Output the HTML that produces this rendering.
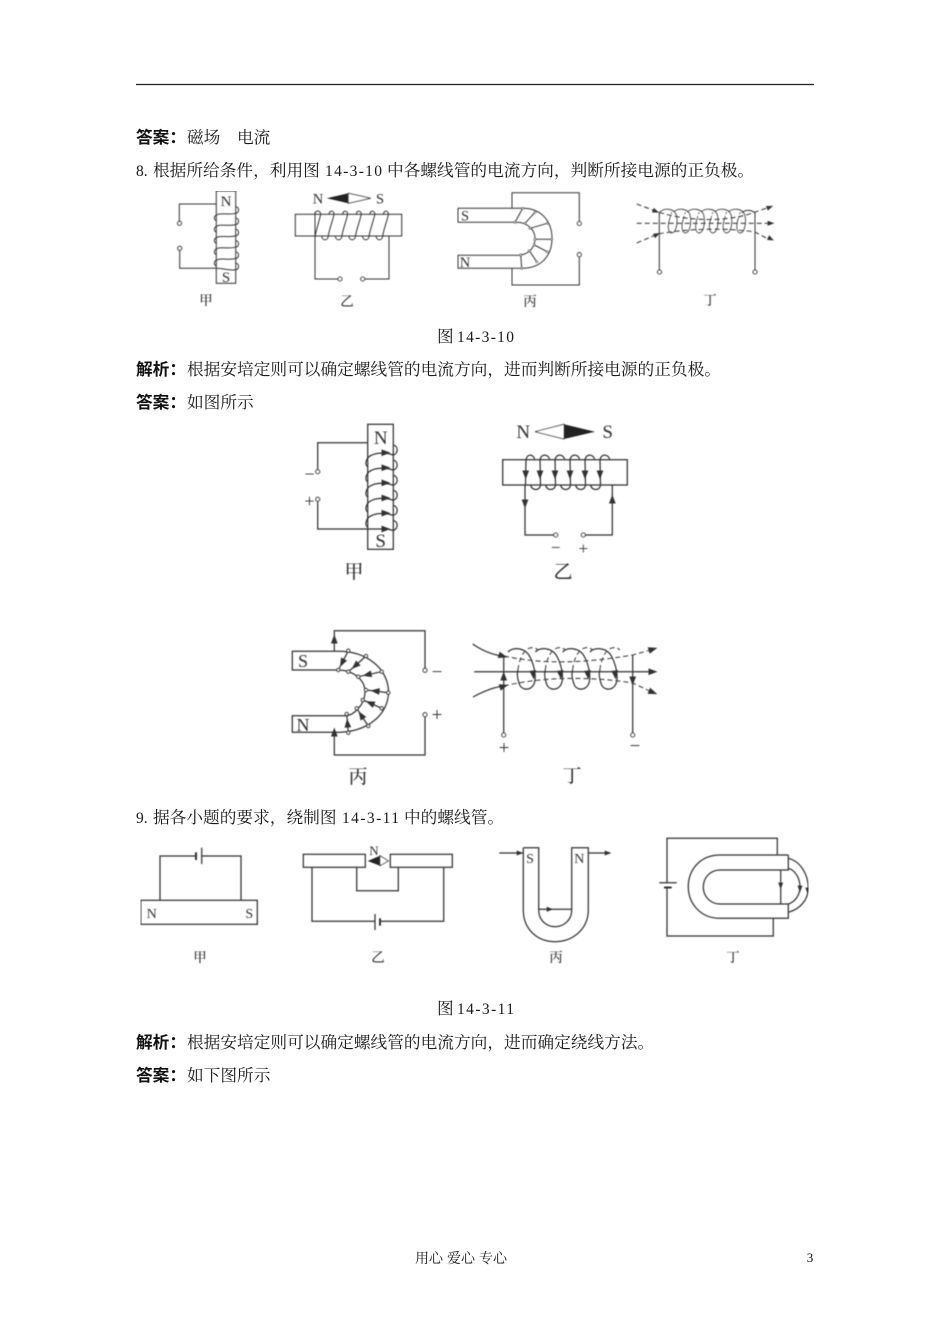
<!DOCTYPE html>
<html><head><meta charset="utf-8"><style>
html,body{margin:0;padding:0;background:#fff;width:950px;height:1344px;overflow:hidden}
svg{display:block}
.t{font-family:"Noto Serif CJK SC",serif;font-size:16.7px;fill:#1a1a1a}
.m{font-family:"Liberation Serif",serif;font-size:15.5px;fill:#1a1a1a}
.b{font-family:"Noto Sans CJK SC",sans-serif;font-size:16.7px;font-weight:bold;fill:#111}
.l{font-family:"Liberation Serif","Noto Serif CJK SC",serif;fill:#333;text-anchor:middle}
.c{font-family:"Noto Serif CJK SC",serif;fill:#333;text-anchor:middle;font-weight:500}
.w{fill:none;stroke:#333;stroke-width:1.25}
.d{fill:none;stroke:#444;stroke-width:1.1;stroke-dasharray:5 3}
.o{fill:#fff;stroke:#333;stroke-width:1.1}
</style></head><body>
<svg xmlns="http://www.w3.org/2000/svg" width="950" height="1344" viewBox="0 0 950 1344">
<defs>
<filter id="bl" x="0" y="0" width="100%" height="100%"><feGaussianBlur stdDeviation="0.4"/></filter>
<marker id="a" viewBox="0 0 8 6" markerUnits="userSpaceOnUse" markerWidth="9" markerHeight="7" refX="4" refY="3" orient="auto" overflow="visible"><path d="M0 0L8 3L0 6z" fill="#333"/></marker>
<marker id="s" viewBox="0 0 8 6" markerUnits="userSpaceOnUse" markerWidth="7" markerHeight="5" refX="4" refY="3" orient="auto" overflow="visible"><path d="M0 0L8 3L0 6z" fill="#333"/></marker>
<path id="k1" d="M235.7 206.7C239.5 207 239.5 212.5 235.7 213.3C230 215 222 213 218 214.3C213.5 215.5 213.5 219.5 216.3 220.7"/>
<path id="k2" d="M321.7 236C322 241 328 241 328.3 236C329 230 333 220 334 214.3C334 210 329.5 210 329 214.3"/>
<g id="k3"><path class="w" style="stroke-width:.9;stroke:#444" d="M660 212C664 208 673 208 676 214C678 220 677 232 672 233C668 233 667 226 670 218"/><path class="d" style="stroke-dasharray:2 2;stroke-width:.8" d="M670 218C671 213 672 211 674 211"/></g>
<path id="k4" d="M393.3 445C398.5 446 398.5 454 393 455C388 453 378 452 372 455C366 457 364 465 368 467"/>
<path id="k5" d="M549.7 460C549 454 541 453 540 460L540.5 485C540 491 531.5 491 530.7 485"/>
<g id="k6"><path class="w" d="M508 652C513 647 525 647 530 657C534 665 537 677 534 684C531 691 521 691 519 683C517 677 517 673 518 670"/><path class="d" d="M518 670C519 660 523 650 530 648C533 647 536 648 538 650"/><path d="M533 672l0.3 3" marker-end="url(#a)"/></g>
</defs>

<line x1="136" y1="84.5" x2="814" y2="84.5" stroke="#222" stroke-width="1.2"/>

<text class="b" x="136" y="143">答案：</text>
<text class="t" x="187" y="143">磁场</text>
<text class="t" x="237" y="143">电流</text>
<text class="m" x="136" y="176">8.</text>
<text class="t" x="153" y="176">根据所给条件，利用图</text>
<text class="m" x="325" y="176" textLength="57">14-3-10</text>
<text class="t" x="387" y="176">中各螺线管的电流方向，判断所接电源的正负极。</text>
<text class="t" x="437" y="342">图</text>
<text class="m" x="457" y="342" textLength="57">14-3-10</text>
<text class="b" x="136" y="375">解析：</text>
<text class="t" x="187" y="375">根据安培定则可以确定螺线管的电流方向，进而判断所接电源的正负极。</text>
<text class="b" x="136" y="408">答案：</text>
<text class="t" x="187" y="408">如图所示</text>
<text class="m" x="136" y="823">9.</text>
<text class="t" x="153" y="823">据各小题的要求，绕制图</text>
<text class="m" x="342" y="823" textLength="57">14-3-11</text>
<text class="t" x="404" y="823">中的螺线管。</text>
<text class="t" x="437" y="1014">图</text>
<text class="m" x="457" y="1014" textLength="57">14-3-11</text>
<text class="b" x="136" y="1048">解析：</text>
<text class="t" x="187" y="1048">根据安培定则可以确定螺线管的电流方向，进而确定绕线方法。</text>
<text class="b" x="136" y="1081">答案：</text>
<text class="t" x="187" y="1081">如下图所示</text>
<text class="t" x="415" y="1263" style="font-size:14px">用心</text>
<text class="t" x="447" y="1263" style="font-size:14px">爱心</text>
<text class="t" x="479" y="1263" style="font-size:14px">专心</text>
<text class="l" x="810" y="1262" style="font-size:13px;fill:#111">3</text>

<g filter="url(#bl)">
<!-- Fig 14-3-10 甲 -->
<g class="w" style="stroke-width:1">
<rect x="216.3" y="191" width="19.4" height="92.3"/>
<path d="M216.3 204H179.3V221"/><path d="M179.7 250V268.3H216.3"/>
<use href="#k1"/><use href="#k1" y="11.3"/><use href="#k1" y="22.6"/><use href="#k1" y="33.9"/><use href="#k1" y="45.2"/>
<path d="M235.7 263.2C239.5 263.5 239.5 269 235.7 269.8C230 271 222 268 216.3 268.3"/>
</g>
<circle class="o" cx="179.5" cy="223.3" r="2"/><circle class="o" cx="179.7" cy="248.3" r="2"/>
<text class="l" x="226" y="206" font-size="15">N</text><text class="l" x="226" y="282" font-size="15">S</text>
<text class="c" x="206" y="305" font-size="13.5">甲</text>

<!-- 乙 -->
<g class="w" style="stroke-width:1">
<rect x="295.3" y="214.3" width="106.4" height="21.7"/>
<path d="M338 279H315V212"/><path d="M365 279H389V236"/>
<path d="M315 214C315 210 320.5 210 320.7 214.3L315 236"/>
<use href="#k2"/><use href="#k2" x="13.6"/><use href="#k2" x="27.2"/><use href="#k2" x="40.8"/><use href="#k2" x="54.4"/>
</g>
<circle class="o" cx="340" cy="279" r="2"/><circle class="o" cx="362.7" cy="279" r="2"/>
<path d="M326.7 198.3L348.3 193.3V203.3z" fill="#222"/><path d="M348.3 193.3L370.7 198.3L348.3 203.3z" fill="#fff" stroke="#444"/>
<text class="l" x="318" y="203.5" font-size="14.5">N</text><text class="l" x="380" y="203.5" font-size="14.5">S</text>
<text class="c" x="347" y="306" font-size="13.5">乙</text>

<!-- 丙 -->
<g class="w" style="stroke-width:1">
<path d="M522 208.3H458V222.3H515"/><path d="M522 208.3C542 208 552 222 552 238.5C552 255 542 268.3 522 268.3H458V255.3H515"/>
<path d="M515 222.3C528 222 535 230 535 238.5C535 248 528 256 515 255.3"/>
<path d="M512 208V192.7H579.3V221"/><path d="M579.3 257V285H512V268.3"/>
<path d="M522.7 208.3L515 222.3M535 212.3L525 223.3M547.3 223.3L530 228.3M551.7 239.3L535 239.3M547.3 251.7L534.3 245M536.7 261.7L529.3 250.7M521.7 268.3L520.7 255"/>
</g>
<g class="o" style="stroke-width:.7"><circle cx="522.7" cy="208.3" r="1"/><circle cx="535" cy="212.3" r="1"/><circle cx="547.3" cy="223.3" r="1"/><circle cx="551.7" cy="239.3" r="1"/><circle cx="547.3" cy="251.7" r="1"/><circle cx="536.7" cy="261.7" r="1"/><circle cx="521.7" cy="268.3" r="1"/><circle cx="515" cy="222.3" r="1"/><circle cx="525" cy="223.3" r="1"/><circle cx="530" cy="228.3" r="1"/><circle cx="535" cy="239.3" r="1"/><circle cx="534.3" cy="245" r="1"/><circle cx="529.3" cy="250.7" r="1"/><circle cx="520.7" cy="255" r="1"/></g>
<circle class="o" cx="579.3" cy="223.5" r="2"/><circle class="o" cx="579.3" cy="254.7" r="2"/>
<text class="l" x="465" y="220.5" font-size="14.5">S</text><text class="l" x="465" y="267" font-size="14.5">N</text>
<text class="c" x="530" y="306" font-size="13.5">丙</text>

<!-- 丁 -->
<g class="w" style="stroke-width:1">
<path d="M659.3 211.7V270M755 211.7V270"/>
<use href="#k3"/><use href="#k3" x="13.7"/><use href="#k3" x="27.4"/><use href="#k3" x="41.1"/><use href="#k3" x="54.8"/><use href="#k3" x="68.5"/>
<path d="M742 213C745 209 752 210 755 213"/>
</g>
<circle class="o" cx="659.5" cy="272" r="2"/><circle class="o" cx="755" cy="272" r="2"/>
<path class="d" d="M636.7 223.3H768"/>
<path class="d" d="M636.7 204L658 212C690 222 730 222 755 212L770 207"/>
<path class="d" d="M636.7 243L658 234C690 228 730 228 755 232L770 240"/>
<g fill="none"><path d="M655 211l1 .4" marker-end="url(#s)"/><path d="M656 235l1-.5" marker-end="url(#s)"/><path d="M770 223.3h1" marker-end="url(#s)"/><path d="M769 207.5l1-.4" marker-end="url(#s)"/><path d="M770 238.5l1 .5" marker-end="url(#s)"/></g>
<text class="c" x="710" y="305" font-size="13.5">丁</text>

<!-- Answer 甲 -->
<g class="w">
<rect x="367.7" y="424.3" width="25.6" height="125"/>
<path d="M367.7 442.7H317.7V469"/><path d="M317.7 502V529H386"/>
<use href="#k4"/><use href="#k4" y="15.1"/><use href="#k4" y="30.2"/><use href="#k4" y="45.3"/><use href="#k4" y="60.4"/>
<path d="M393.3 520.5C398.5 521.5 398.5 529 393 530.5C390 529.5 388 529 386 529"/>
</g>
<g fill="none"><path d="M385 452.7h1" marker-end="url(#a)"/><path d="M385 467.8h1" marker-end="url(#a)"/><path d="M385 482.9h1" marker-end="url(#a)"/><path d="M385 498h1" marker-end="url(#a)"/><path d="M385 513.1h1" marker-end="url(#a)"/><path d="M385 529h1" marker-end="url(#a)"/></g>
<circle class="o" cx="317.7" cy="471.7" r="2"/><circle class="o" cx="317.7" cy="499.3" r="2"/>
<text class="l" x="380.7" y="444" font-size="19">N</text><text class="l" x="380.7" y="547" font-size="19">S</text>
<text class="l" x="309.5" y="480" font-size="18">−</text><text class="l" x="309.5" y="507" font-size="18">+</text>
<text class="c" x="354" y="578" font-size="19">甲</text>

<!-- Answer 乙 -->
<g class="w">
<rect x="502.7" y="459.7" width="124.6" height="25.3"/>
<path d="M553.5 535H525V485"/><path d="M585.5 535H612.3V485"/>
<path d="M534.7 460C534 454 527 453 526 460L525.5 485"/>
<use href="#k5"/><use href="#k5" x="15"/><use href="#k5" x="30"/><use href="#k5" x="45"/><use href="#k5" x="60"/>
</g>
<g fill="none"><path d="M525.7 474v1" marker-end="url(#a)"/><path d="M540 474v1" marker-end="url(#a)"/><path d="M555 474v1" marker-end="url(#a)"/><path d="M570 474v1" marker-end="url(#a)"/><path d="M585 474v1" marker-end="url(#a)"/><path d="M600 474v1" marker-end="url(#a)"/><path d="M525 503v1" marker-end="url(#a)"/><path d="M612.3 500v-1" marker-end="url(#a)"/></g>
<circle class="o" cx="555.7" cy="535" r="2"/><circle class="o" cx="583.3" cy="535" r="2"/>
<path d="M535 431.7L564 424.3V439z" fill="#fff" stroke="#444"/><path d="M564 424.3L595 431.7L564 439z" fill="#222"/>
<text class="l" x="523.3" y="438" font-size="19">N</text><text class="l" x="607.7" y="438" font-size="19">S</text>
<text class="l" x="555.7" y="553" font-size="17">−</text><text class="l" x="583.3" y="554" font-size="17">+</text>
<text class="c" x="563" y="578" font-size="19">乙</text>

<!-- Answer 丙 -->
<g class="w">
<path d="M335 651.3H292.3V670H337"/><path d="M335 651.3C368 650 388.5 670 388.5 692C388.5 714 368 733 335 732.3H292.3V715.7H345"/>
<path d="M337 670C354 670 365 680 365 692C365 704 354 716 345 715.7"/>
<path d="M334.3 651V630.7H425V668"/><path d="M425 717V755H334.3V732"/>
<polyline points="348.3,650.7 342,663 338.3,670" marker-mid="url(#a)"/>
<polyline points="366,656 355,666 348.3,671.7" marker-mid="url(#a)"/>
<polyline points="381.7,671.7 367,674.8 358.3,676.7" marker-mid="url(#a)"/>
<polyline points="388.3,692.7 375,691 366,690" marker-mid="url(#a)"/>
<polyline points="381.7,708.3 370,703 362.7,700" marker-mid="url(#a)"/>
<polyline points="368.3,726 361,715 356.7,708.3" marker-mid="url(#a)"/>
<polyline points="348.3,732.7 347.5,723 346.7,714" marker-mid="url(#a)"/>
</g>
<g fill="none"><path d="M334.3 640v-1" marker-end="url(#a)"/><path d="M334.3 733v-1" marker-end="url(#a)"/></g>
<g class="o"><circle cx="348.3" cy="650.7" r="1.6"/><circle cx="366" cy="656" r="1.6"/><circle cx="381.7" cy="671.7" r="1.6"/><circle cx="388.3" cy="692.7" r="1.6"/><circle cx="381.7" cy="708.3" r="1.6"/><circle cx="368.3" cy="726" r="1.6"/><circle cx="348.3" cy="732.7" r="1.6"/><circle cx="338.3" cy="670" r="1.6"/><circle cx="348.3" cy="671.7" r="1.6"/><circle cx="358.3" cy="676.7" r="1.6"/><circle cx="366" cy="690" r="1.6"/><circle cx="362.7" cy="700" r="1.6"/><circle cx="356.7" cy="708.3" r="1.6"/><circle cx="346.7" cy="714" r="1.6"/><circle cx="425" cy="670.3" r="2"/><circle cx="425" cy="714.7" r="2"/></g>
<text class="l" x="303" y="667" font-size="18">S</text><text class="l" x="303" y="731" font-size="18">N</text>
<text class="l" x="437" y="678" font-size="19">−</text><text class="l" x="437" y="721" font-size="19">+</text>
<text class="c" x="358" y="783" font-size="19">丙</text>

<!-- Answer 丁 -->
<g class="w">
<path d="M503.7 656.7V733M632.7 655V733"/>
<path d="M474.3 671.7H655"/>
<path d="M472.7 644C484 652 494 655 504 656.5"/>
<path d="M473 697C484 691 494 687 504 686"/>
</g>
<g fill="none"><use href="#k6"/><use href="#k6" x="27.3"/><use href="#k6" x="54.6"/><use href="#k6" x="81.9"/></g>
<path class="d" d="M504 656C540 664 580 664 632.7 655L656 648.5"/>
<path class="d" d="M504 686C540 677 590 676 632.7 683L656 694"/>
<g fill="none"><path d="M502 655.8l1 .3" marker-end="url(#a)"/><path d="M503 686.5l1-.3" marker-end="url(#a)"/><path d="M503.7 677v-1" marker-end="url(#a)"/><path d="M652 671.7h1" marker-end="url(#a)"/><path d="M652 649.5l1-.3" marker-end="url(#a)"/><path d="M652 692l1 .4" marker-end="url(#a)"/><path d="M632.7 680v1" marker-end="url(#a)"/></g>
<circle class="o" cx="503.7" cy="735" r="2"/><circle class="o" cx="632.7" cy="735" r="2"/>
<text class="l" x="504" y="754" font-size="19">+</text><text class="l" x="635" y="752" font-size="19">−</text>
<text class="c" x="572" y="782" font-size="19">丁</text>

<!-- Fig 14-3-11 甲 -->
<g class="w">
<rect x="140.7" y="900.3" width="116.6" height="24"/>
<path d="M160 900.3V856H195M202 856H241V900.3"/>
<path d="M201.7 847.7V864"/>
</g>
<rect x="195" y="852.3" width="2" height="7.7" fill="#333"/>
<text class="l" x="151.7" y="918" font-size="14">N</text><text class="l" x="249.3" y="918" font-size="14">S</text>
<text class="c" x="200" y="962" font-size="13.5">甲</text>

<!-- 乙 -->
<g class="w">
<rect x="303.3" y="854.3" width="62" height="13"/><rect x="390.3" y="854.3" width="62" height="13"/>
<path d="M312 867.3V921.3H375M381 921.3H443.7V867.3"/>
<path d="M356.7 867.3V890.7H398.3V867.3"/>
<path d="M375 914V930"/>
</g>
<rect x="379" y="918.3" width="2" height="7.4" fill="#333"/>
<path d="M367.7 861L380 855.7V865.7z" fill="#222"/><path d="M380 855.7L388.3 861L380 865.7z" fill="#fff" stroke="#444"/>
<text class="l" x="374" y="855" font-size="13">N</text>
<text class="c" x="378" y="962" font-size="13.5">乙</text>

<!-- 丙 -->
<g class="w">
<path d="M523.3 847.7H538.7V910C538.7 920 546 926.7 555 926.7C564 926.7 571.7 920 571.7 910V847.7H588.3V910C588.3 928 574 941.7 555 941.7C536 941.7 523.3 928 523.3 910V847.7"/>
<path d="M538.7 909.3H571.7"/>
<path d="M499.3 853H523.3M588.3 853H610"/>
</g>
<g fill="none"><path d="M549 909.3h1" marker-end="url(#s)"/><path d="M519 853h1" marker-end="url(#s)"/><path d="M607 853h1" marker-end="url(#s)"/></g>
<text class="l" x="530" y="863" font-size="14">S</text><text class="l" x="579.3" y="863" font-size="14">N</text>
<text class="c" x="556" y="962" font-size="13.5">丙</text>

<!-- 丁 -->
<g class="w">
<path d="M667 882.7V838.3H777.3V855"/><path d="M667 887.3V936H773.3V918.3"/>
<path d="M659.3 882.7H676.7"/>
<path d="M788.3 855H720C700 855 688.3 870 688.3 886.7C688.3 903 700 918.3 720 918.3H788.3V904H720C710 904 703.3 896 703.3 887C703.3 878 710 870 720 870H788.3V855"/>
<path d="M780.7 870V904"/>
<path d="M788.3 858.3C800 861 808.3 874 808.3 888C808.3 900 800 909 788.3 912.3"/>
<path d="M788.3 868.3C795 870 800 878 800 887C800 895 795 902 788.3 904"/>
</g>
<rect x="664" y="886.5" width="7.7" height="2" fill="#333"/>
<g fill="none"><path d="M780.7 885v1" marker-end="url(#s)"/><path d="M800 888v1" marker-end="url(#s)"/><path d="M807.8 890v1" marker-end="url(#s)"/></g>
<text class="c" x="733" y="962" font-size="13.5">丁</text>
</g>
</svg>
</body></html>
